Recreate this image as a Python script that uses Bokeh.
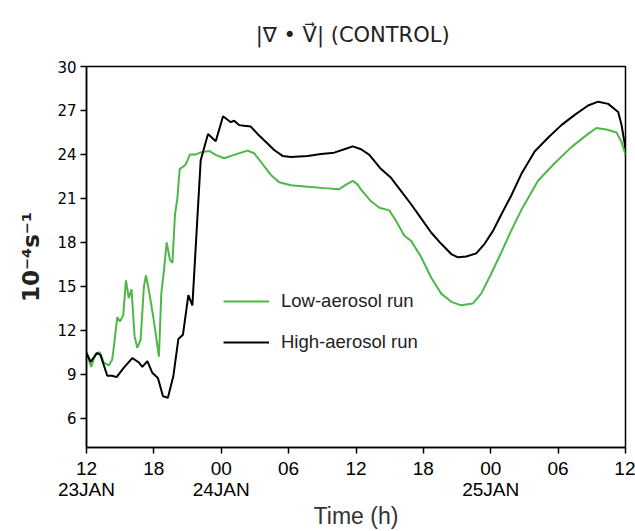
from bokeh.plotting import figure
from bokeh.models import Legend, LegendItem, FixedTicker, Range1d
from bokeh.embed import file_html
from bokeh.resources import INLINE

# hours since 12 UTC 23 JAN
low_t = [0.00, 0.42, 0.80, 1.19, 1.54, 1.99, 2.29, 2.44, 2.74, 2.97, 3.27, 3.51, 3.77, 4.01, 4.28,
         4.52, 4.82, 5.11, 5.29, 5.56, 5.95, 6.45, 6.66, 6.90, 7.14, 7.43, 7.65, 7.88, 8.09, 8.30,
         8.83, 9.22, 9.73, 10.17, 10.91, 11.51, 12.25, 13.14, 14.34, 14.93, 15.52, 16.42, 17.16,
         18.20, 19.69, 21.17, 22.51, 23.11, 23.71, 24.15, 24.45, 25.34, 26.08, 26.97, 27.57, 28.31,
         28.91, 29.80, 30.69, 31.59, 32.48, 33.37, 34.41, 35.15, 36.04, 36.93, 37.82, 38.72, 40.21,
         41.69, 43.18, 44.67, 45.41, 46.31, 47.20, 47.64, 48.00]
low_v = [10.5, 9.5, 10.4, 10.5, 9.8, 9.6, 10.0, 10.9, 12.9, 12.6, 13.0, 15.4, 14.2, 14.8, 11.6,
         10.8, 11.35, 14.95, 15.75, 14.7, 12.9, 10.2, 14.5, 16.1, 18.0, 16.8, 16.6, 19.9, 21.0, 23.0,
         23.3, 24.0, 24.0, 24.14, 24.24, 23.97, 23.74, 23.97, 24.26, 24.08, 23.5, 22.6, 22.1,
         21.9, 21.8, 21.7, 21.62, 21.94, 22.2, 21.94, 21.6, 20.8, 20.36, 20.18, 19.46, 18.45,
         18.1, 17.0, 15.6, 14.5, 13.94, 13.7, 13.83, 14.5, 15.86, 17.3, 18.8, 20.2, 22.2,
         23.4, 24.5, 25.4, 25.8, 25.7, 25.5, 24.86, 23.97]

high_t = [0.00, 0.36, 0.95, 1.25, 1.85, 2.29, 2.68, 3.33, 4.08, 4.67, 4.97, 5.42, 5.86, 6.36, 6.81,
          7.25, 7.74, 8.18, 8.59, 9.07, 9.43, 9.81, 10.17, 10.82, 11.51, 12.16, 12.85, 13.14, 13.59,
          14.03, 14.63, 15.23, 16.12, 16.71, 17.46, 18.20, 19.69, 20.88, 22.06, 22.96, 23.71, 24.45,
          25.19, 26.23, 27.12, 28.02, 28.91, 29.80, 30.69, 31.59, 32.48, 33.08, 33.82, 34.71, 35.45,
          36.20, 36.94, 37.83, 38.72, 39.91, 41.10, 42.29, 43.48, 44.67, 45.57, 46.46, 47.35, 47.65,
          48.00]
high_v = [10.45, 9.85, 10.45, 10.3, 8.9, 8.9, 8.8, 9.45, 10.1, 9.8, 9.5, 9.9, 9.1, 8.75, 7.5,
          7.4, 8.9, 11.4, 11.7, 14.4, 13.7, 18.8, 23.6, 25.4, 24.9, 26.6, 26.2, 26.3, 26.0,
          25.95, 25.9, 25.4, 24.75, 24.3, 23.9, 23.83, 23.9, 24.03, 24.12, 24.35, 24.55, 24.35,
          23.97, 23.0, 22.4, 21.5, 20.6, 19.64, 18.67, 17.9, 17.2, 16.98, 17.03, 17.25, 17.9,
          18.78, 19.9, 21.2, 22.66, 24.2, 25.14, 26.0, 26.7, 27.34, 27.6, 27.45, 26.9, 26.0,
          24.4]

x_ticks = [0, 6, 12, 18, 24, 30, 36, 42, 48]
x_tick_labels = ["12\n23JAN", "18", "00\n24JAN", "06", "12", "18", "00\n25JAN", "06", "12"]
y_ticks = [6, 9, 12, 15, 18, 21, 24, 27, 30]

p = figure(width=635, height=531, output_backend="svg", toolbar_location=None,
           x_range=Range1d(0, 48), y_range=Range1d(4.0, 30.0),
           min_border_left=86, min_border_right=10, min_border_top=64, min_border_bottom=83,
           title="|\u2207 \u2022 V\u20d7|  (CONTROL)")
p.title.align = "center"
p.title.text_font = "DejaVu Sans"
p.title.text_font_style = "normal"
p.title.text_font_size = "21px"
p.title.text_color = "#222222"
p.title.standoff = 40

p.grid.visible = False
p.outline_line_color = "black"
p.outline_line_width = 1.5
p.background_fill_color = "white"
p.border_fill_color = "white"

r_low = p.line(low_t, low_v, line_color="#4db848", line_width=2)
r_high = p.line(high_t, high_v, line_color="black", line_width=2)

p.xaxis.ticker = FixedTicker(ticks=x_ticks)
p.xaxis.major_label_overrides = {t: l for t, l in zip(x_ticks, x_tick_labels)}
p.yaxis.ticker = FixedTicker(ticks=y_ticks)

for ax in (p.xaxis[0], p.yaxis[0]):
    ax.minor_tick_line_color = None
    ax.major_tick_out = 6
    ax.major_tick_in = 0
    ax.major_tick_line_width = 1.5
    ax.axis_line_width = 1.5
    ax.major_label_text_color = "black"
    ax.major_label_standoff = 4

p.xaxis.major_label_text_font = "Liberation Sans"
p.xaxis.major_label_text_font_size = "19px"
p.xaxis.major_label_text_line_height = 1.0
p.xaxis.axis_label = "Time (h)"
p.xaxis.axis_label_text_font = "Liberation Sans"
p.xaxis.axis_label_text_font_style = "normal"
p.xaxis.axis_label_text_font_size = "23px"
p.xaxis.axis_label_text_color = "#333333"
p.xaxis.axis_label_standoff = 0

p.yaxis.major_label_text_font = "DejaVu Sans"
p.yaxis.major_label_text_font_size = "15px"
p.yaxis.axis_label = "10\u207b\u2074s\u207b\u00b9"
p.yaxis.axis_label_text_font = "DejaVu Sans"
p.yaxis.axis_label_text_font_style = "bold"
p.yaxis.axis_label_text_font_size = "23px"
p.yaxis.axis_label_text_color = "#222222"
p.yaxis.axis_label_standoff = 10

legend = Legend(items=[LegendItem(label="Low-aerosol run", renderers=[r_low]),
                       LegendItem(label="High-aerosol run", renderers=[r_high])],
                location=(137, 94), glyph_width=46, glyph_height=20, spacing=19,
                label_standoff=12, padding=0, margin=0, border_line_color=None,
                background_fill_alpha=0, label_text_font="Liberation Sans",
                label_text_font_size="18.5px", label_text_color="#222222")
p.add_layout(legend, "center")

open("out.html", "w").write(file_html(p, INLINE))
